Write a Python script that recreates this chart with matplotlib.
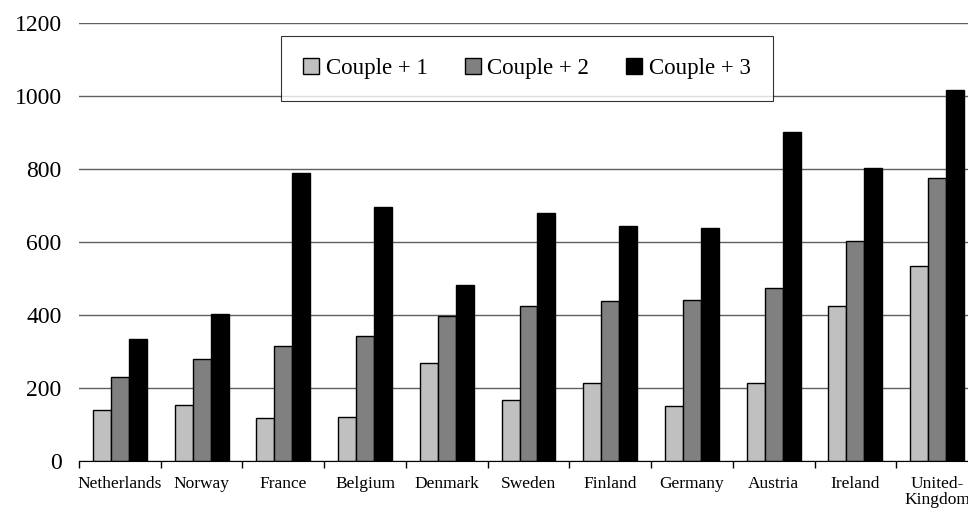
import numpy as np
import matplotlib.pyplot as plt

plt.rcParams['font.family'] = ['Liberation Serif', 'DejaVu Serif']

countries = ['Netherlands', 'Norway', 'France', 'Belgium', 'Denmark', 'Sweden',
             'Finland', 'Germany', 'Austria', 'Ireland', 'United-\nKingdom']
couple_1 = [140, 154, 117, 121, 268, 166, 215, 151, 215, 426, 535]
couple_2 = [230, 279, 316, 342, 397, 426, 437, 440, 475, 603, 775]
couple_3 = [335, 404, 788, 697, 482, 679, 645, 637, 900, 802, 1017]
series = [('Couple + 1', couple_1, '#c0c0c0'),
          ('Couple + 2', couple_2, '#808080'),
          ('Couple + 3', couple_3, '#000000')]

fig = plt.figure(figsize=(9.68, 5.2), dpi=100)
# the plot area runs a little past the right edge of the picture, like the original
ax = fig.add_axes([79 / 968, 59 / 520, 899 / 968, 438 / 520])

x = np.arange(len(countries))
w = 0.22
for i, (name, vals, col) in enumerate(series):
    ax.bar(x + (i - 1) * w, vals, w, color=col, edgecolor='black', linewidth=1,
           label=name, zorder=3)

ax.set_xlim(-0.5, len(countries) - 0.5)
ax.set_ylim(0, 1200)
ax.set_yticks(range(0, 1201, 200))
ax.tick_params(axis='y', length=0, labelsize=17, pad=12.5)
ax.grid(axis='y', color='#606060', linewidth=1, zorder=0)

ax.set_xticks(x)
ax.set_xticklabels(countries, fontsize=12.5, linespacing=1.0)
ax.tick_params(axis='x', length=0, pad=11)
ax.set_xticks(np.arange(len(countries)) - 0.5, minor=True)
ax.tick_params(axis='x', which='minor', length=5, width=1, color='black')

for s in ['top', 'right', 'left']:
    ax.spines[s].set_visible(False)
ax.spines['bottom'].set_color('black')
ax.spines['bottom'].set_zorder(4)

leg = ax.legend(loc='center', bbox_to_anchor=(527 / 968, 1 - 68.5 / 520),
                bbox_transform=fig.transFigure, ncol=3, fontsize=16.5,
                frameon=True, fancybox=False, edgecolor='black',
                handlelength=0.7, handleheight=0.7, handletextpad=0.3,
                columnspacing=1.6, borderpad=0.95, borderaxespad=0)
leg.get_frame().set_linewidth(0.8)
leg.set_zorder(5)

fig.savefig('out.png', dpi=100)
